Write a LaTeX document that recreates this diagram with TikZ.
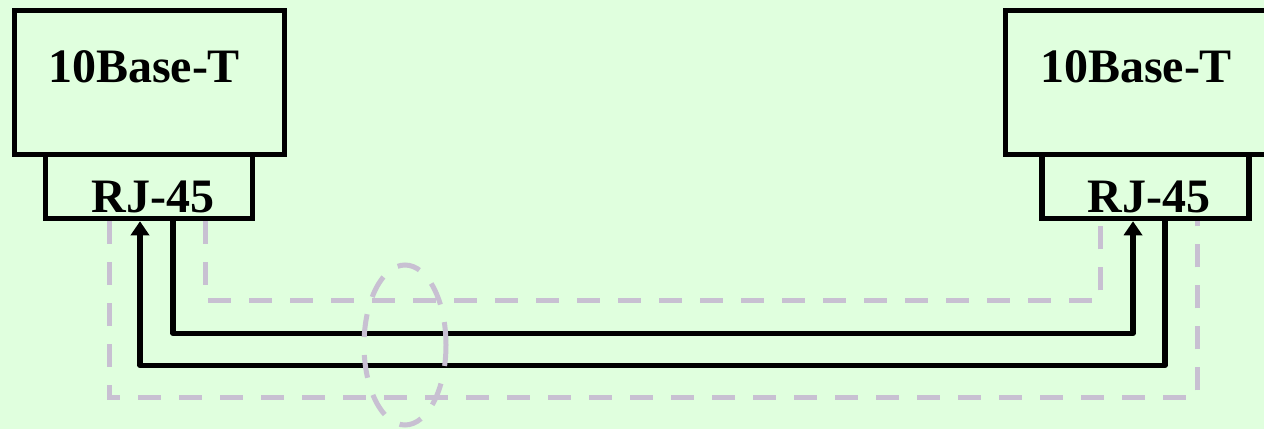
\documentclass[tikz,border=0pt]{standalone}
\usepackage{fontspec}
\setmainfont{Liberation Serif}
\usetikzlibrary{arrows.meta,shapes.geometric}
\definecolor{bggreen}{RGB}{224,255,222}
\definecolor{cablegrey}{RGB}{200,192,210}

\begin{document}
\begin{tikzpicture}[x=1pt, y=-1pt,
    devbox/.style={draw, line width=5.5pt, minimum width=270pt, minimum height=144pt, inner sep=0pt},
    jackbox/.style={draw, line width=5.5pt, minimum width=207pt, minimum height=64pt, inner sep=0pt},
    boxtext/.style={font=\fontsize{48}{50}\selectfont\bfseries, inner sep=0pt},
    wire/.style={line width=5.5pt, line join=round, -{Triangle[width=18pt,length=14pt]}},
    shield/.style={cablegrey, line width=5pt, dash pattern=on 23pt off 18pt}]

    % background
    \fill[bggreen] (0,0) rectangle (1264,429);
    \useasboundingbox (0,0) rectangle (1264,429);

    % left station
    \node[devbox] (devL) at (149.5,82.5) {};
    \node[boxtext, anchor=base] (devLtxt) at (144,82) {10Base-T};
    \node[jackbox] (rjL) at (149,186.5) {};
    \node[boxtext, anchor=base] (rjLtxt) at (153,212) {RJ-45};

    % right station (runs past the edge)
    \node[devbox, minimum width=320pt] (devR) at (1165.5,82.5) {};
    \node[boxtext, anchor=base] (devRtxt) at (1136,82) {10Base-T};
    \node[jackbox] (rjR) at (1145.25,186.5) {};
    \node[boxtext, anchor=base] (rjRtxt) at (1149,212) {RJ-45};

    % shield pairs (dashed)
    \draw[shield] ([xshift=56pt]rjL.south) -- ++(0,79) -| ([xshift=-45.25pt]rjR.south);
    \draw[shield] ([xshift=-40pt]rjL.south) -- ++(0,176) -| ([xshift=51.75pt]rjR.south);

    % twisted pairs
    \draw[wire] ([xshift=24pt]rjL.south) -- ++(0,112) -| ([xshift=-12.25pt]rjR.south);
    \draw[wire] ([xshift=19.75pt]rjR.south) -- ++(0,144) -| ([xshift=-9pt]rjL.south);

    % cable bundle
    \node[ellipse, draw, shield, minimum width=82pt, minimum height=160pt, inner sep=0pt] (bundle) at (405,345) {};
\end{tikzpicture}
\end{document}
